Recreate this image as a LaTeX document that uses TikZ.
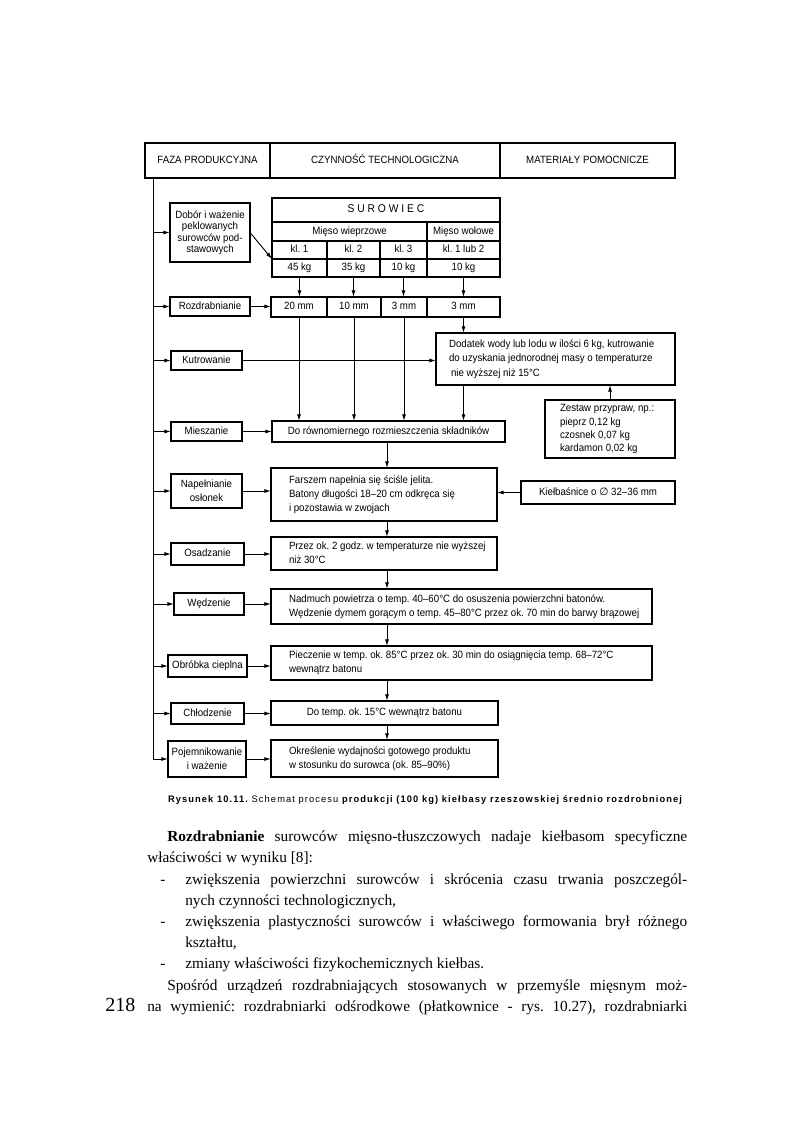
\documentclass[tikz,border=0pt]{standalone}
\usepackage{fontspec}
\usepackage{graphicx}
\setmainfont{Liberation Serif}
\setsansfont{Liberation Sans}
\newfontfamily\dfam[FakeStretch=0.92]{Liberation Sans}
\newfontfamily\capfont[LetterSpace=12]{Liberation Sans}
\newfontfamily\symfont{DejaVu Sans}
\usetikzlibrary{arrows.meta,calc}
\frenchspacing
\newdimen\ux \ux=0.75pt
\newdimen\myW \newdimen\myH \newdimen\myP
\newcommand\dfont{\dfam\fontsize{7.9}{10.5}\selectfont}
\newcommand\bodyfont{\rmfamily\fontsize{11.5}{16}\selectfont\frenchspacing}
% single-line centred box: [opts]{name}{x1}{y1}{x2}{y2}{text}
\newcommand\bx[7][]{\myW=\dimexpr\ux*(#5-#3)\relax\myH=\dimexpr\ux*(#6-#4)\relax
  \node[box,sl,minimum width=\the\myW,minimum height=\the\myH,#1] (#2) at ({(#3+#5)/2},{(#4+#6)/2}) {#7};}
% multi-line centred box
\newcommand\mbx[7][]{\myW=\dimexpr\ux*(#5-#3)\relax\myH=\dimexpr\ux*(#6-#4)\relax
  \node[box,align=center,minimum width=\the\myW,minimum height=\the\myH,#1] (#2) at ({(#3+#5)/2},{(#4+#6)/2}) {#7};}
% left aligned box: [opts]{name}{x1}{y1}{x2}{y2}{pad}{text}
\newcommand\lbx[8][]{\myW=\dimexpr\ux*(#5-#3-2*#7)\relax\myH=\dimexpr\ux*(#6-#4)\relax\myP=\dimexpr\ux*#7\relax
  \node[box,inner xsep=\the\myP,minimum height=\the\myH,#1] (#2) at ({(#3+#5)/2},{(#4+#6)/2}) {\makebox[\myW][l]{\begin{tabular}{@{}l@{}}#8\end{tabular}}};}
\begin{document}
\begin{tikzpicture}[x=0.75pt,y=-0.75pt,
  box/.style={draw,line width=1.1pt,inner sep=0pt,outer sep=0pt,font=\dfont},
  sl/.style={text height=5.6pt,text depth=1.5pt},
  hdr/.style={line width=0.9pt},
  arr/.style={line width=0.7pt,-{Latex[length=5pt,width=3pt]}},
  plain/.style={line width=0.7pt},
  txt/.style={anchor=base west,inner sep=0pt,font=\bodyfont}]
\useasboundingbox (0,0) rectangle (800,1141);
% header
\bx[hdr]{h1}{145}{143}{270}{178}{FAZA PRODUKCYJNA}
\bx[hdr]{h2}{270}{143}{500}{178}{CZYNNOŚĆ TECHNOLOGICZNA}
\bx[hdr]{h3}{500}{143}{675}{178}{MATERIAŁY POMOCNICZE}
% phases
\mbx[font=\dfam\fontsize{7.9}{8.6}\selectfont]{dob}{170}{203}{250}{262}{Dobór i ważenie\\peklowanych\\surowców pod-\\stawowych}
\bx{roz}{170}{297}{250}{316}{Rozdrabnianie}
\bx{kut}{171}{351}{242}{370}{Kutrowanie}
\bx{mie}{171}{422}{242}{441}{Mieszanie}
\mbx{nap}{171}{474}{242}{508}{Napełnianie\\osłonek}
\bx{osa}{171}{543}{244}{565}{Osadzanie}
\bx{wed}{174}{593}{244}{615}{Wędzenie}
\bx{obr}{168}{655}{247}{677}{Obróbka cieplna}
\bx{chl}{171}{703}{244}{724}{Chłodzenie}
\mbx{poj}{168}{741}{246}{777}{Pojemnikowanie\\i ważenie}
% surowiec table
\bx[font=\dfam\fontsize{8.4}{10}\selectfont]{sur}{272}{198}{500}{222}{S U R O W I E C}
\bx{mw}{272}{222}{427}{241}{Mięso wieprzowe}
\bx{mwo}{427}{222}{500}{241}{Mięso wołowe}
\bx{k1}{272}{241}{327}{259}{kl. 1}
\bx{k2}{327}{241}{380}{259}{kl. 2}
\bx{k3}{380}{241}{427}{259}{kl. 3}
\bx{k4}{427}{241}{500}{259}{kl. 1 lub 2}
\bx{g1}{272}{259}{327}{277}{45 kg}
\bx{g2}{327}{259}{380}{277}{35 kg}
\bx{g3}{380}{259}{427}{277}{10 kg}
\bx{g4}{427}{259}{500}{277}{10 kg}
% rozdrabnianie row
\bx{r1}{271}{297}{327}{317}{20 mm}
\bx{r2}{327}{297}{381}{317}{10 mm}
\bx{r3}{381}{297}{427}{317}{3 mm}
\bx{r4}{427}{297}{500}{317}{3 mm}
% process boxes
\lbx[font=\dfam\fontsize{7.9}{10.9}\selectfont]{dod}{436}{333}{675}{385}{13}{Dodatek wody lub lodu w ilości 6 kg, kutrowanie\\do uzyskania jednorodnej masy o temperaturze\\\hspace*{1.5pt}nie wyższej niż 15°C}
\lbx[font=\dfam\fontsize{7.9}{10}\selectfont]{zes}{545}{400}{675}{458}{15}{Zestaw przypraw, np.:\\pieprz 0,12 kg\\czosnek 0,07 kg\\kardamon 0,02 kg}
\bx{dor}{272}{421}{505}{442}{Do równomiernego rozmieszczenia składników}
\lbx{far}{271}{468}{497}{521}{18}{Farszem napełnia się ściśle jelita.\\Batony długości 18–20 cm odkręca się\\i pozostawia w zwojach}
\bx{kie}{521}{481}{675}{504}{Kiełbaśnice o {\symfont ∅} 32–36 mm}
\lbx{prz}{271}{537}{497}{570}{18}{Przez ok. 2 godz. w temperaturze nie wyższej\\niż 30°C}
\lbx{nad}{271}{589}{652}{624}{18}{Nadmuch powietrza o temp. 40–60°C do osuszenia powierzchni batonów.\\Wędzenie dymem gorącym o temp. 45–80°C przez ok. 70 min do barwy brązowej}
\lbx{pie}{271}{646}{652}{680}{18}{Pieczenie w temp. ok. 85°C przez ok. 30 min do osiągnięcia temp. 68–72°C\\wewnątrz batonu}
\bx{dot}{271}{701}{498}{725}{Do temp. ok. 15°C wewnątrz batonu}
\lbx{okr}{271}{740}{498}{777}{18}{Określenie wydajności gotowego produktu\\w stosunku do surowca (ok. 85–90\%)}
% left spine
\coordinate (L0) at (153,178);
\draw[plain] (L0) -- (L0 |- poj.west);
\foreach \n in {dob,roz,kut,mie,nap,osa,wed,obr,chl,poj} \draw[arr] (L0 |- \n.west) -- (\n.west);
% phase -> process
\draw[arr] (dob.east) -- (k1.south west);
\draw[arr] (roz.east) -- (roz.east -| r1.west);
\draw[arr] (kut.east) -- (kut.east -| dod.west);
\draw[arr] (mie.east) -- (mie.east -| dor.west);
\draw[arr] (nap.east) -- (nap.east -| far.west);
\draw[arr] (osa.east) -- (osa.east -| prz.west);
\draw[arr] (wed.east) -- (wed.east -| nad.west);
\draw[arr] (obr.east) -- (obr.east -| pie.west);
\draw[arr] (chl.east) -- (chl.east -| dot.west);
\draw[arr] (poj.east) -- (poj.east -| okr.west);
\draw[arr] (kie.west) -- (kie.west -| far.east);
\draw[arr] (zes.north) -- (zes.north |- dod.south);
% vertical flow
\foreach \i in {1,2,3,4} \draw[arr] (g\i.south) -- (g\i.south |- r\i.north);
\foreach \i in {1,2,3} \draw[arr] (r\i.south) -- (r\i.south |- dor.north);
\draw[arr] (r4.south) -- (r4.south |- dod.north);
\draw[arr] (r4.south |- dod.south) -- (r4.south |- dor.north);
\coordinate (X) at (387,0);
\draw[arr] (X |- dor.south) -- (X |- far.north);
\draw[arr] (X |- far.south) -- (X |- prz.north);
\draw[arr] (X |- prz.south) -- (X |- nad.north);
\draw[arr] (X |- nad.south) -- (X |- pie.north);
\draw[arr] (X |- pie.south) -- (X |- dot.north);
\draw[arr] (X |- dot.south) -- (X |- okr.north);
% caption
\node[inner sep=0pt] (cap) at (425,800) {\resizebox{385.5pt}{5.2pt}{\capfont\bfseries Rysunek 10.11. \mdseries Schemat procesu \bfseries produkcji (100 kg) kiełbasy rzeszowskiej średnio rozdrobnionej}};
% body text
\node[txt] (t1) at (167,841) {\makebox[390pt][s]{\textbf{Rozdrabnianie} surowców mięsno-tłuszczowych nadaje kiełbasom specyficzne}};
\node[txt] (t2) at (147,862) {właściwości w wyniku [8]:};
\node[txt] (d1) at (160,884) {-};
\node[txt] (t3) at (185,884) {\makebox[376.5pt][s]{zwiększenia powierzchni surowców i skrócenia czasu trwania poszczegól-}};
\node[txt] (t4) at (185,905) {nych czynności technologicznych,};
\node[txt] (d2) at (160,926) {-};
\node[txt] (t5) at (185,926) {\makebox[376.5pt][s]{zwiększenia plastyczności surowców i właściwego formowania brył różnego}};
\node[txt] (t6) at (185,947) {kształtu,};
\node[txt] (d3) at (160,968) {-};
\node[txt] (t7) at (185,968) {zmiany właściwości fizykochemicznych kiełbas.};
\node[txt] (t8) at (167,990) {\makebox[390pt][s]{Spośród urządzeń rozdrabniających stosowanych w przemyśle mięsnym moż-}};
\node[txt] (t9) at (147,1011) {\makebox[405pt][s]{na wymienić: rozdrabniarki odśrodkowe (płatkownice - rys. 10.27), rozdrabniarki}};
\node[txt,font=\rmfamily\fontsize{15}{16}\selectfont] (pg) at (105,1011) {218};
\end{tikzpicture}
\end{document}
